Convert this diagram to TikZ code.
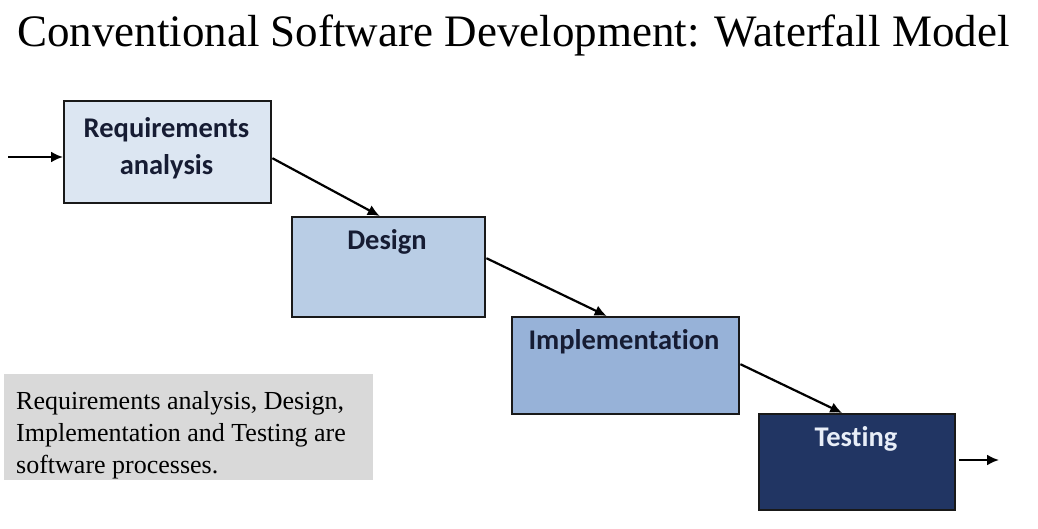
\documentclass[tikz,border=0pt]{standalone}
\usepackage{fontspec}
\setmainfont{Liberation Serif}
\newfontfamily\boxfont[Ligatures=NoCommon]{Carlito}
\usetikzlibrary{arrows.meta}
\definecolor{reqfill}{HTML}{DCE6F2}
\definecolor{desfill}{HTML}{B9CDE5}
\definecolor{impfill}{HTML}{97B2D8}
\definecolor{tstfill}{HTML}{213563}
\definecolor{labcol}{HTML}{161C33}
\definecolor{tstlab}{HTML}{E8EEF8}
\definecolor{notefill}{HTML}{D9D9D9}
\begin{document}
\begin{tikzpicture}[x=1pt,y=-1pt,
  stage/.style={draw=black!90,line width=2.4pt,anchor=north west,inner sep=0pt},
  stagelab/.style={font=\boxfont\bfseries\fontsize{28.5}{37}\selectfont,text=labcol,anchor=base,inner sep=0pt,align=center},
  flow/.style={line width=2.2pt,-{Latex[length=12pt,width=11pt]}},
  ]
\useasboundingbox (0,0) rectangle (1038,529);
\node[anchor=base west,inner sep=0pt,font=\fontsize{45}{50}\selectfont] (title) at (17,47) {Conventional Software Development: Waterfall Model};

\node[stage,fill=reqfill,minimum width=207pt,minimum height=102pt] (req) at (63,100) {};
\node[stage,fill=desfill,minimum width=193pt,minimum height=100pt] (des) at (291,216) {};
\node[stage,fill=impfill,minimum width=227pt,minimum height=97pt] (imp) at (511,316) {};
\node[stage,fill=tstfill,minimum width=196pt,minimum height=96pt] (tst) at (758,413) {};

\node[stagelab] (reqlab) at (166.5,175) {Requirements\\analysis};
\node[stagelab] (deslab) at (387,250) {Design};
\node[stagelab] (implab) at (624,349) {Implementation};
\node[stagelab,text=tstlab] (tstlab) at (856,446) {Testing};

\coordinate (in) at (8,157);
\coordinate (out) at (999,460);
\draw[flow] (in) -- (req.west |- in);
\draw[flow] ([yshift=-6pt]req.east) -- ([xshift=-9pt]des.north);
\draw[flow] ([yshift=9pt]des.east) -- ([xshift=-19pt]imp.north);
\draw[flow] ([yshift=1.5pt]imp.east) -- ([xshift=-15pt]tst.north);
\draw[flow] (tst.east |- out) ++(3,0) coordinate (tstout) -- (out);

\node[fill=notefill,anchor=north west,minimum width=369pt,minimum height=106pt,inner sep=0pt] (note) at (4,374) {};
\node[anchor=base west,inner sep=0pt,align=left,font=\fontsize{26}{32}\selectfont] (notetext) at (16,473) {Requirements analysis, Design,\\Implementation and Testing are\\software processes.};
\end{tikzpicture}
\end{document}
